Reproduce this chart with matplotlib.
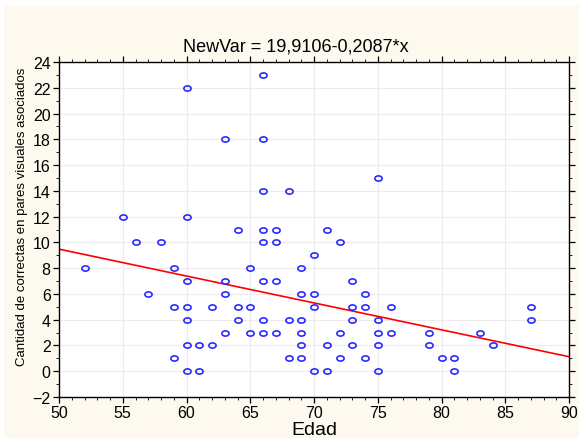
import numpy as np
import matplotlib
matplotlib.use("Agg")
import matplotlib.pyplot as plt
from matplotlib.path import Path
from matplotlib.patches import Rectangle
from matplotlib.ticker import MultipleLocator

edad = [52, 55, 56, 57, 58,
        59, 59, 59,
        60, 60, 60, 60, 60, 60, 60,
        61, 61, 62, 62,
        63, 63, 63, 63,
        64, 64, 64,
        65, 65, 65,
        66, 66, 66, 66, 66, 66, 66, 66,
        67, 67, 67, 67,
        68, 68, 68,
        69, 69, 69, 69, 69, 69,
        70, 70, 70, 70,
        71, 71, 71,
        72, 72, 72,
        73, 73, 73, 73,
        74, 74, 74,
        75, 75, 75, 75, 75,
        76, 76, 79, 79, 80, 81, 81, 83, 84, 87, 87]
correctas = [8, 12, 10, 6, 10,
             8, 5, 1,
             22, 12, 7, 5, 4, 2, 0,
             2, 0, 5, 2,
             18, 7, 6, 3,
             11, 5, 4,
             8, 5, 3,
             23, 18, 14, 11, 10, 7, 4, 3,
             11, 10, 7, 3,
             14, 4, 1,
             8, 6, 4, 3, 2, 1,
             9, 6, 5, 0,
             11, 2, 0,
             10, 3, 1,
             7, 5, 4, 2,
             6, 5, 1,
             15, 4, 3, 2, 0,
             5, 3, 3, 2, 1, 1, 0, 3, 2, 5, 4]
intercept = 19.9106
slope = -0.2087
title = "NewVar = 19,9106-0,2087*x"
xticks = [50, 55, 60, 65, 70, 75, 80, 85, 90]
yticks = list(range(-2, 25, 2))

plt.rcParams['font.family'] = ['Liberation Sans', 'DejaVu Sans']

W, H = 579, 439
fig = plt.figure(figsize=(W / 100, H / 100), dpi=100)
fig.patch.set_facecolor('white')
fig.patches.append(Rectangle((4 / W, 0), 1, 1 - 7 / H, transform=fig.transFigure,
                             facecolor='#fdf9ee', edgecolor='none', zorder=-10))
ax = fig.add_axes([59 / W, 1 - 398 / H, (569 - 59) / W, (398 - 63) / H])
ax.set_facecolor('white')

ax.set_xlim(50, 90)
ax.set_ylim(-2, 24)
ax.set_xticks(xticks)
ax.set_yticks(yticks)
ax.xaxis.set_minor_locator(MultipleLocator(1))
ax.yaxis.set_minor_locator(MultipleLocator(1))
ax.grid(True, which='major', color='#ececec', lw=0.8)
ax.set_axisbelow(True)
ax.tick_params(which='both', direction='out', top=True, right=True,
               labeltop=False, labelright=False, color='black')
ax.tick_params(which='major', length=4, width=0.9, labelsize=11.5, pad=2)
ax.tick_params(which='minor', length=2, width=0.6)
for s in ax.spines.values():
    s.set_linewidth(1.0)

t = np.linspace(0, 2 * np.pi, 41)
ell = Path(np.column_stack([np.cos(t), 0.72 * np.sin(t)]))

xs = np.array([50, 90])
ax.plot(xs, intercept + slope * xs, color='red', lw=1.2, zorder=2)
ax.plot(edad, correctas, linestyle='none', marker=ell, markersize=5.2,
        markerfacecolor='none', markeredgecolor='#2a2aff', markeredgewidth=1.2,
        zorder=3)

fig.text(296 / W, 1 - 47 / H, title, ha='center', va='center', fontsize=13)
fig.text(314 / W, 1 - 431 / H, "Edad", ha='center', va='center', fontsize=14)
fig.text(22 / W, 1 - 217 / H, "Cantidad de correctas en pares visuales asociados",
         rotation=90, ha='center', va='center', fontsize=9.5)

fig.savefig("out.png", dpi=100, facecolor=fig.get_facecolor())
